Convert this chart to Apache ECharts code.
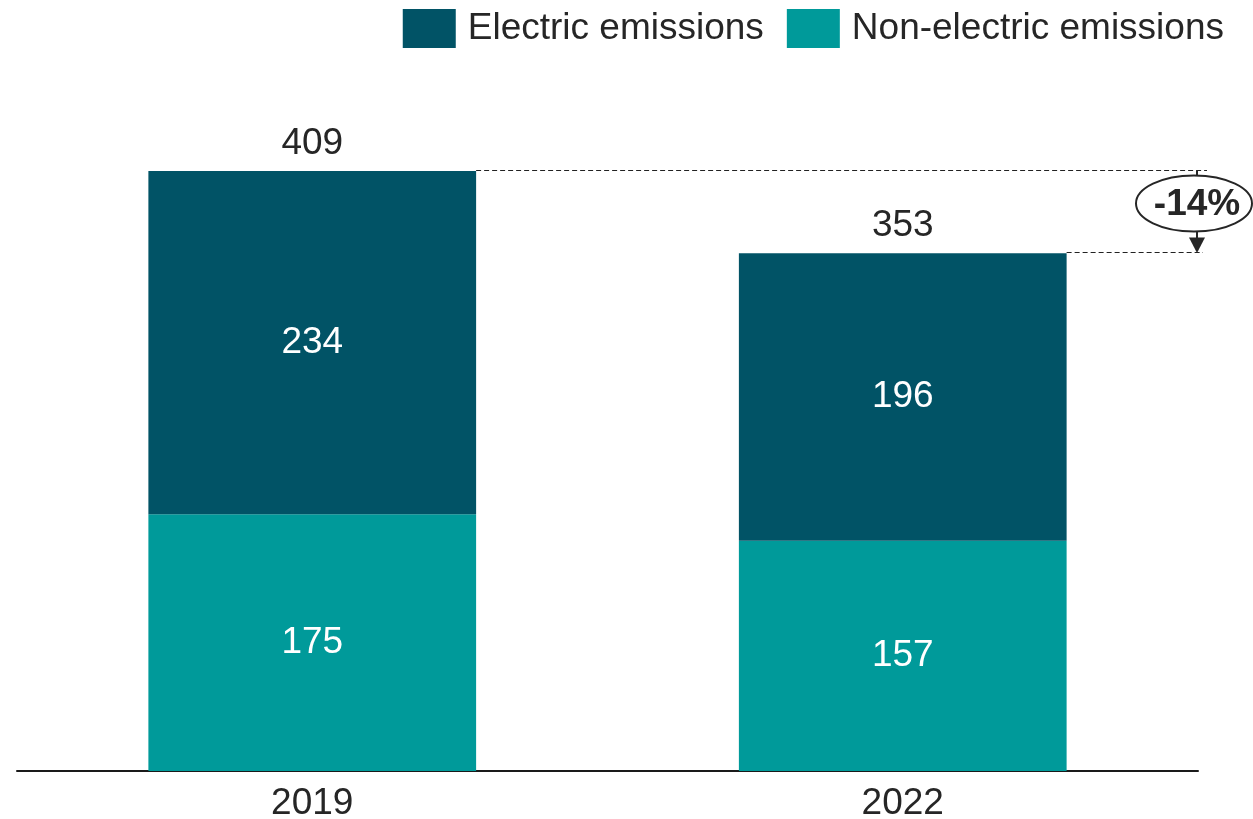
<!DOCTYPE html>
<html>
<head>
<meta charset="utf-8">
<script src="https://cdn.jsdelivr.net/npm/echarts@6/dist/echarts.min.js"></script>
<style>
html,body{margin:0;padding:0;background:#fff;}
#c{width:1253px;height:819px;}
</style>
</head>
<body>
<div id="c"></div>
<script>
var categories = ['2019', '2022'];
var nonElectric = [175, 157];
var electric = [234, 196];
var totals = [409, 353];
var seriesNames = ['Electric emissions', 'Non-electric emissions'];

var FONT = "'Liberation Sans', Arial, sans-serif";
var TXT = '#262626';
var C_ELEC = '#015366';
var C_NON = '#009a9a';

var chart = echarts.init(document.getElementById('c'));
var GRID = {left: 17, right: 55, top: 110.85, bottom: 48, outerBoundsMode: 'none', containLabel: false};
var BARW = 0.555;

chart.setOption({
  animation: false,
  textStyle: {fontFamily: FONT},
  legend: {
    data: seriesNames,
    top: 9, right: 29, padding: 0,
    itemWidth: 53, itemHeight: 39, itemGap: 23,
    icon: 'rect',
    textStyle: {fontSize: 37, color: TXT, fontFamily: FONT, padding: [0, 0, 0, 7]}
  },
  grid: GRID,
  xAxis: {
    type: 'category',
    data: categories,
    axisLine: {lineStyle: {color: '#1a1a1a', width: 2}},
    axisTick: {show: false},
    axisLabel: {fontSize: 37, color: TXT, margin: 14, fontFamily: FONT}
  },
  yAxis: {type: 'value', min: 0, max: 450, show: false, splitLine: {show: false}},
  series: [
    {
      name: seriesNames[1], type: 'bar', stack: 's', data: nonElectric,
      barWidth: (BARW * 100) + '%',
      itemStyle: {color: C_NON},
      label: {show: true, position: 'inside', color: '#fff', fontSize: 37, fontFamily: FONT}
    },
    {
      name: seriesNames[0], type: 'bar', stack: 's', data: electric,
      itemStyle: {color: C_ELEC},
      label: {show: true, position: 'inside', color: '#fff', fontSize: 37, fontFamily: FONT}
    },
    {
      name: 'Total', type: 'bar', stack: 's', data: totals.map(function(){return 0;}),
      itemStyle: {color: 'transparent'},
      label: {
        show: true, position: 'top', distance: 9, color: TXT, fontSize: 37, fontFamily: FONT,
        formatter: function(p){ return String(totals[p.dataIndex]); }
      }
    }
  ]
});

// annotation computed from data through the axes
var W = chart.getWidth();
var plotW = W - GRID.left - GRID.right;
var band = plotW / categories.length;
var halfBar = band * BARW / 2;
var y0 = Math.round(chart.convertToPixel({yAxisIndex: 0}, totals[0])) - 0.5;
var y1 = Math.round(chart.convertToPixel({yAxisIndex: 0}, totals[1])) - 0.5;
var x0r = chart.convertToPixel({xAxisIndex: 0}, categories[0]) + halfBar;
var x1r = chart.convertToPixel({xAxisIndex: 0}, categories[1]) + halfBar;
var ax = W - GRID.right - 1;
var pct = Math.round((totals[1] - totals[0]) / totals[0] * 100);
var ey = (y0 + y1) / 2 - 8;
var ery = 28;
var dashStyle = {stroke: '#222', lineWidth: 1, lineDash: [5, 3]};

chart.setOption({
  graphic: [
    {type: 'line', shape: {x1: x0r, y1: y0, x2: ax + 10, y2: y0}, style: dashStyle, z: 10},
    {type: 'line', shape: {x1: x1r, y1: y1, x2: ax + 6, y2: y1}, style: dashStyle, z: 10},
    {type: 'line', shape: {x1: ax, y1: y0, x2: ax, y2: ey - ery}, style: {stroke: '#262626', lineWidth: 2}, z: 10},
    {type: 'line', shape: {x1: ax, y1: ey + ery, x2: ax, y2: y1 - 12}, style: {stroke: '#262626', lineWidth: 2}, z: 10},
    {type: 'polygon', shape: {points: [[ax - 8, y1 - 15], [ax + 8, y1 - 15], [ax, y1 + 0.5]]}, style: {fill: '#262626'}, z: 10},
    {type: 'ellipse', shape: {cx: ax - 3, cy: ey, rx: 58, ry: ery}, style: {fill: '#fff', stroke: '#262626', lineWidth: 2}, z: 11},
    {type: 'text', x: ax, y: ey + 1, z: 12,
      style: {text: pct + '%', fill: '#262626', font: 'bold 37px ' + FONT, textAlign: 'center', textVerticalAlign: 'middle'}}
  ]
});
</script>
</body>
</html>
